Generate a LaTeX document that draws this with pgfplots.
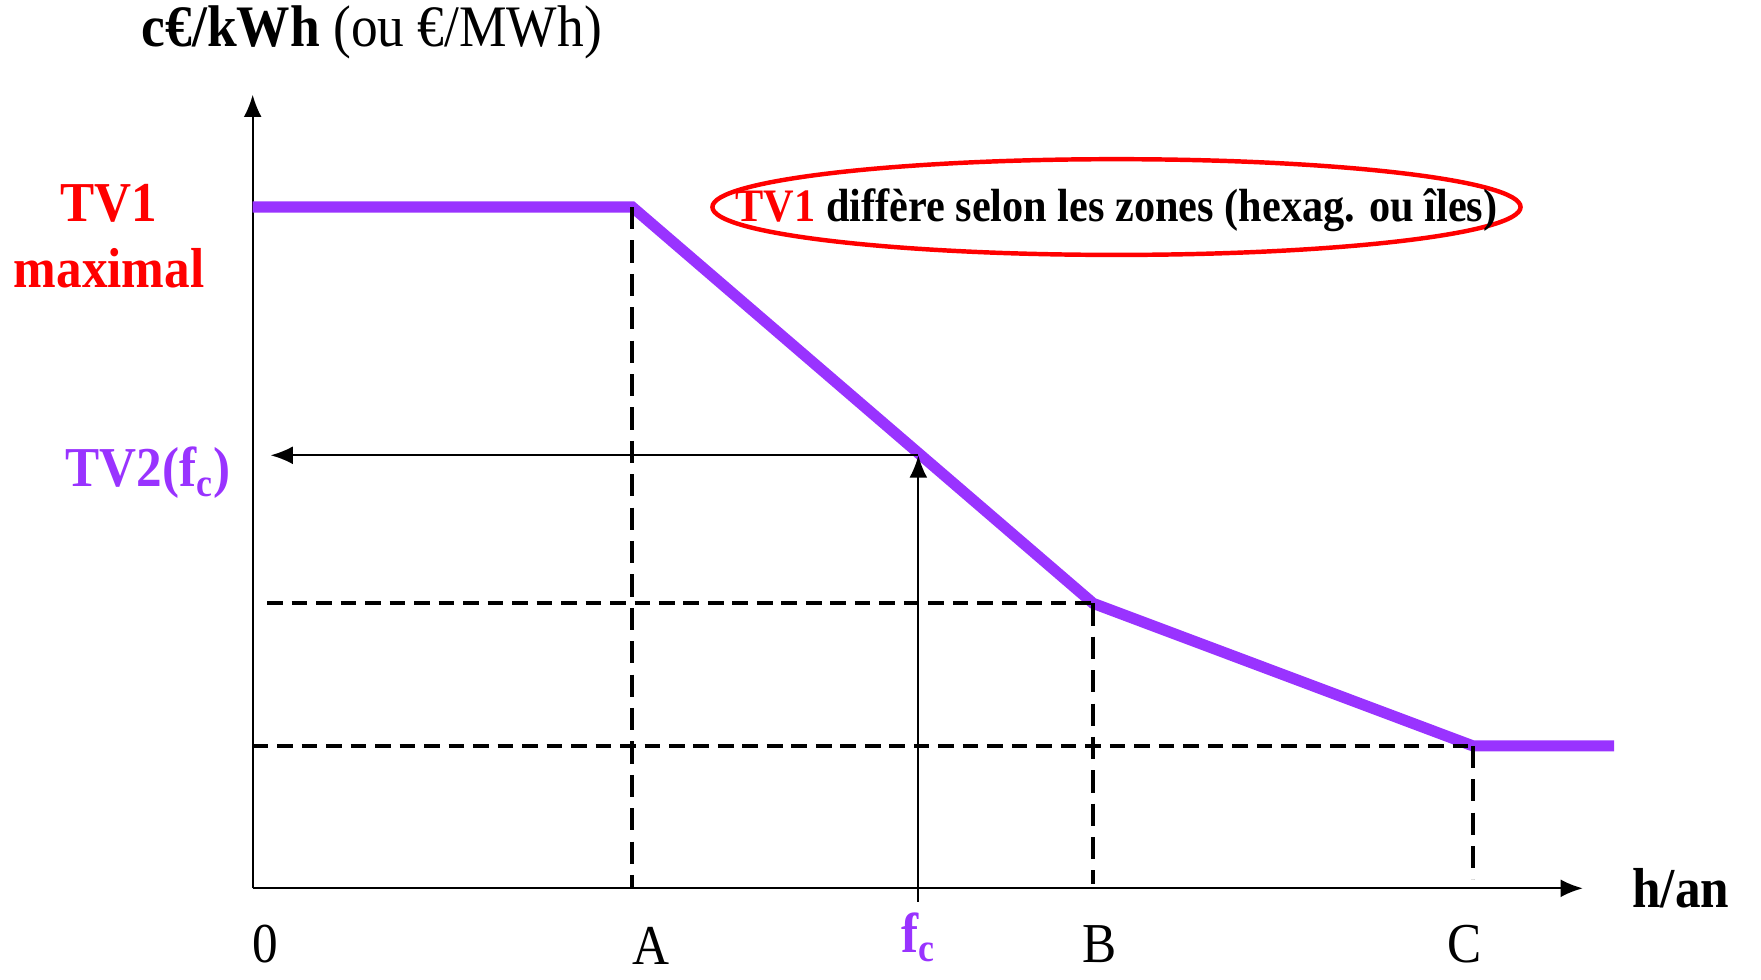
\documentclass[border=0pt]{standalone}
\usepackage{fontspec}
\setmainfont{Liberation Serif}
\usepackage{graphicx}
\usepackage{pgfplots}
\pgfplotsset{compat=1.18}
\usetikzlibrary{arrows.meta}
\definecolor{tvpurple}{RGB}{153,51,255}
\newcommand{\lblfont}{\fontsize{23}{27}\selectfont}
\newcommand{\tall}[1]{\scalebox{1}[1.1]{#1}}
\begin{document}
\begin{tikzpicture}
\begin{axis}[
    x=0.5pt, y=0.5pt,
    xmin=0, xmax=1195, ymin=0, ymax=713,
    axis lines=left,
    axis line style={line width=1pt, -{Latex[length=10pt,width=8pt]}},
    xtick=\empty, ytick=\empty,
    clip=false,
]
% page frame
\path (axis cs:-227,-82) rectangle (axis cs:1355,798);

% tariff curve
\addplot[tvpurple, line width=5pt, line join=miter] coordinates {
    (0,612) (341,612) (755,256) (1096,128) (1223,128)};

% guides
\addplot[black, line width=1.8pt, dash pattern=on 10pt off 5pt] coordinates {(341,612) (341,0)};
\addplot[black, line width=1.8pt, dash pattern=on 10pt off 5pt] coordinates {(755,256) (755,4)};
\addplot[black, line width=1.8pt, dash pattern=on 10pt off 5pt] coordinates {(1096,128) (1096,8)};
\addplot[black, line width=1.9pt, dash pattern=on 7pt off 4pt] coordinates {(13,256) (755,256)};
\addplot[black, line width=1.9pt, dash pattern=on 7pt off 4pt] coordinates {(0,128) (1096,128)};

% reading arrows
\addplot[black, line width=1pt, -{Latex[length=10pt,width=8pt]}] coordinates {(598,-12) (598,389)};
\addplot[black, line width=1pt, -{Latex[length=10pt,width=8pt]}] coordinates {(598,389) (16,389)};

% labels
\node[font=\fontsize{24}{28}\selectfont, inner sep=0pt] at (axis cs:107,769)
    {\tall{\textbf{c€/kWh} (ou €/MWh)}};
\node[font=\lblfont\bfseries, text=red, inner sep=0pt] at (axis cs:-129,615) {\tall{TV1}};
\node[font=\lblfont\bfseries, text=red, inner sep=0pt] at (axis cs:-129,557) {\tall{maximal}};
\node[font=\lblfont\bfseries, text=tvpurple, inner sep=0pt] at (axis cs:-94,373) {\tall{TV2(f\textsubscript{c})}};
\node[font=\lblfont\bfseries, inner sep=0pt] at (axis cs:1283,0) {\tall{h/an}};
\node[font=\lblfont, inner sep=0pt] at (axis cs:11,-50) {\tall{0}};
\node[font=\lblfont, inner sep=0pt] at (axis cs:358,-52) {\tall{A}};
\node[font=\lblfont\bfseries, text=tvpurple, inner sep=0pt] at (axis cs:598,-44) {\tall{f\textsubscript{c}}};
\node[font=\lblfont, inner sep=0pt] at (axis cs:761,-50) {\tall{B}};
\node[font=\lblfont, inner sep=0pt] at (axis cs:1089,-50) {\tall{C}};

% note
\draw[red, line width=2pt] (axis cs:776,612) ellipse [x radius=363, y radius=43];
\node[font=\fontsize{19}{22}\selectfont\bfseries, inner sep=0pt] at (axis cs:776,609)
    {\tall{\textcolor{red}{TV1} diffère selon les zones (hexag. ou îles)}};
\end{axis}
\end{tikzpicture}
\end{document}
